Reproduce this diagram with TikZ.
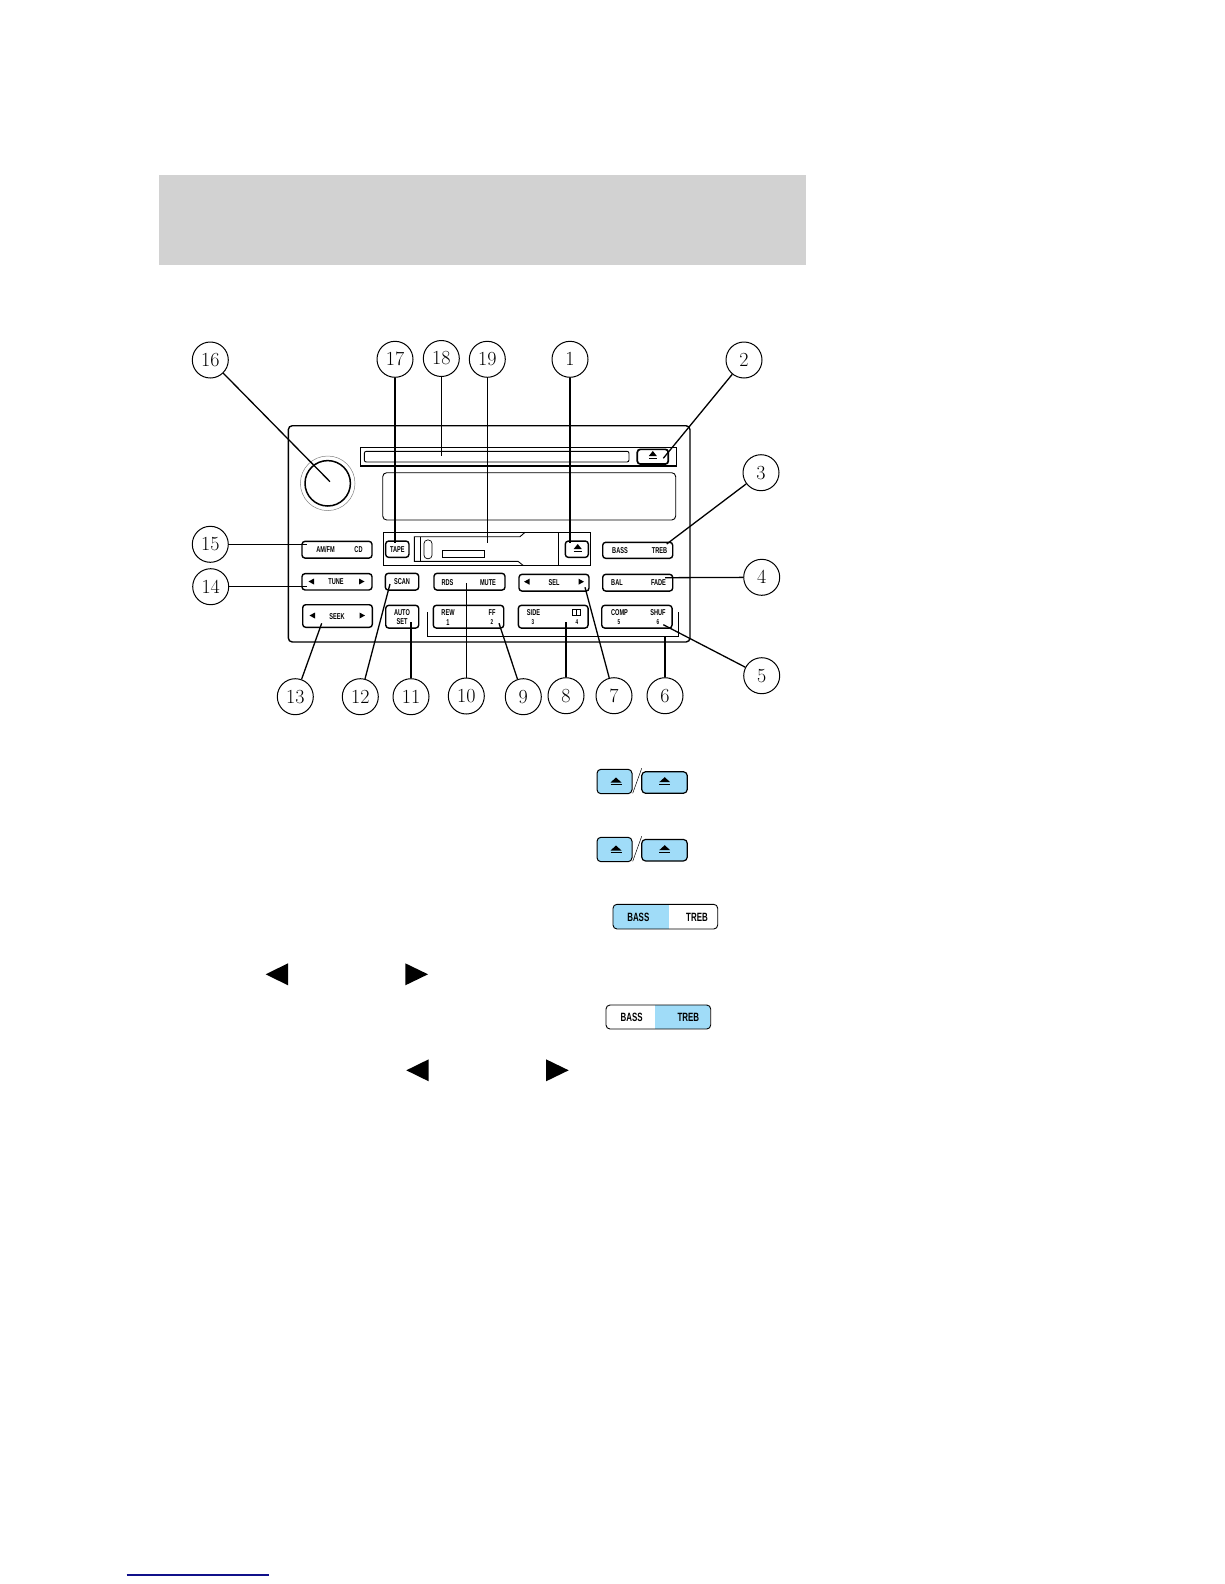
\documentclass[tikz,border=0pt]{standalone}
\usepackage{fontspec}
\newfontfamily\btnfont[FakeStretch=0.66]{Liberation Sans}
\definecolor{hdrgrey}{HTML}{D2D2D2}
\definecolor{keyblue}{HTML}{A0DCF8}
\definecolor{rulenavy}{HTML}{10108A}
\tikzset{
	num/.style={circle,draw,line width=1pt,minimum size=36pt,inner sep=0pt,font=\fontsize{20}{24}\selectfont},
	btn/.style={rectangle,draw,rounded corners=3pt,line width=1.4pt,inner sep=0pt},
	key/.style={btn,fill=keyblue,line width=1pt,rounded corners=4pt},
	lbl/.style={inner sep=0pt,font=\btnfont\bfseries\fontsize{8.5}{9}\selectfont},
	lblsmall/.style={inner sep=0pt,font=\btnfont\bfseries\fontsize{7}{8}\selectfont},
	leg/.style={inner sep=0pt,font=\btnfont\bfseries\fontsize{12}{13}\selectfont},
	pan/.style={line width=1.4pt},
	lead/.style={line width=1.3pt},
	tri/.style={fill=black,draw=none}
}
\newcommand{\ejectmark}[3]{% x, y, half width
	\fill (#1-#3,#2+1.5) -- (#1+#3,#2+1.5) -- (#1,#2-3.5) -- cycle;
	\draw[line width=.8pt] (#1-#3,#2+3.8) -- (#1+#3,#2+3.8);
}
\begin{document}
\begin{tikzpicture}[x=1pt,y=-1pt]
	\useasboundingbox (0,0) rectangle (1224,1584);
	\fill[hdrgrey] (159,175) rectangle (806,265);
	\draw[rulenavy,line width=1.5pt] (126.7,1575) -- (269,1575);

	% panel
	\draw[pan,rounded corners=4pt] (690,425.7) -- (288.3,425.7) -- (288.3,642) -- (690,642) -- cycle;
	\draw[pan] (360.7,447.3) rectangle (676.7,466);
	\draw[line width=.9pt,rounded corners=2pt] (364.3,451.3) rectangle (629,462);
	\draw[line width=.9pt,rounded corners=4pt] (382.7,472.7) rectangle (675.7,520);
	\draw[gray,line width=.5pt] (327.7,483.3) circle (27.3);
	\node(knob) [circle,draw,line width=1.5pt,minimum size=45.4pt,inner sep=0pt] at (327.7,483.3) {};

	% tape door
	\draw[line width=.9pt] (383.3,532.3) rectangle (590.3,565.3);
	\draw[line width=.9pt] (558.7,532.3) -- (558.7,565.3);
	\draw[line width=.9pt] (525,532.3) -- (520,536.7) -- (414.3,536.7) -- (414.3,561.3) -- (518,561.3) -- (523,565.3);
	\draw[line width=.9pt] (420,536.7) -- (420,561.3);
	\draw[line width=.7pt,rounded corners=3.5pt] (424,540) rectangle (432,558.7);
	\draw[line width=.7pt] (442.3,550.7) rectangle (484,557.3);

	% buttons
	\node(cdej) [btn,line width=1.7pt,minimum width=31pt,minimum height=14.7pt] at (652.8,456.7) {};
	\ejectmark{652.8}{454.5}{4}
	\node(tape) [btn,minimum width=23.3pt,minimum height=16.3pt] at (397.3,549.2) {};
	\node(tapeej) [btn,minimum width=23pt,minimum height=16.3pt] at (576.8,549.2) {};
	\ejectmark{577.7}{547.5}{4}
	\node(amfm) [btn,minimum width=70pt,minimum height=16.7pt] at (337,549.7) {};
	\node(bass) [btn,minimum width=70pt,minimum height=16pt] at (637.7,550.3) {};
	\node(tune) [btn,minimum width=70pt,minimum height=16.3pt] at (337,581.8) {};
	\node(scan) [btn,minimum width=33.4pt,minimum height=16.7pt] at (402,581.7) {};
	\node(rds) [btn,minimum width=71pt,minimum height=16.7pt] at (469.5,581.7) {};
	\node(sel) [btn,minimum width=70pt,minimum height=16.7pt] at (554,582.7) {};
	\node(bal) [btn,minimum width=70pt,minimum height=16.7pt] at (637.7,582.7) {};
	\node(seek) [btn,minimum width=69.6pt,minimum height=22.6pt] at (337.5,616) {};
	\node(auto) [btn,minimum width=33pt,minimum height=22.7pt] at (402.2,616.7) {};
	\node(rew) [btn,minimum width=70.4pt,minimum height=22.7pt] at (468.5,616.7) {};
	\node(side) [btn,minimum width=69.7pt,minimum height=22.7pt] at (553.2,616.7) {};
	\node(comp) [btn,minimum width=70.3pt,minimum height=22.7pt] at (636.9,616.7) {};
	\draw[pan] (427.7,612.3) -- (427.7,636.7) -- (678.3,636.7) -- (678.3,612.3);

	% button labels
	\node(tamfm) [lbl] at (325.5,549.7) {AM/FM};
	\node(tcd) [lbl] at (358.5,549.7) {CD};
	\node(ttape) [lbl] at (397.3,549.4) {TAPE};
	\node(tbass) [lbl] at (620,550.5) {BASS};
	\node(ttreb) [lbl] at (659.5,550.5) {TREB};
	\node(ttune) [lbl] at (336,581.3) {TUNE};
	\node(tscan) [lbl] at (402,581.3) {SCAN};
	\node(trds) [lbl] at (447.5,582.5) {RDS};
	\node(tmute) [lbl] at (488,582.5) {MUTE};
	\node(tsel) [lbl] at (554,583) {SEL};
	\node(tbal) [lbl] at (617,582.5) {BAL};
	\node(tfade) [lbl] at (658.5,582.5) {FADE};
	\node(tseek) [lbl] at (337,617) {SEEK};
	\node(tauto) [lbl,align=center,font=\btnfont\bfseries\fontsize{8.5}{8.5}\selectfont] at (402,617) {AUTO\\SET};
	\node(trew) [lbl] at (448,613) {REW};
	\node(tone) [lbl] at (448,622.5) {1};
	\node(tff) [lbl] at (492,613) {FF};
	\node(ttwo) [lblsmall] at (492,622.5) {2};
	\node(tside) [lbl] at (533.5,613) {SIDE};
	\node(tthree) [lblsmall] at (533,622.5) {3};
	\node(tfour) [lblsmall] at (577,622.5) {4};
	\node(tcomp) [lbl] at (619.5,613) {COMP};
	\node(tfive) [lblsmall] at (619,622.5) {5};
	\node(tshuf) [lbl] at (658,613) {SHUF};
	\node(tsix) [lblsmall] at (658,622.5) {6};
	\draw[line width=.7pt] (572.5,609.5) rectangle (580.5,615.5) (576.5,609.5) -- (576.5,615.5);

	% small arrows on the buttons
	\fill (308.5,581.5) -- (314,578.5) -- (314,584.5) -- cycle;
	\fill (364.5,581.5) -- (359,578.5) -- (359,584.5) -- cycle;
	\fill (309.5,615.5) -- (315,612.5) -- (315,618.5) -- cycle;
	\fill (365,615.5) -- (359.5,612.5) -- (359.5,618.5) -- cycle;
	\fill (524,581.7) -- (529.5,578.7) -- (529.5,584.7) -- cycle;
	\fill (584,581.7) -- (578.5,578.7) -- (578.5,584.7) -- cycle;

	% numbers
	\node(n16) [num] at (210.3,360) {16};
	\node(n17) [num] at (395,359.3) {17};
	\node(n18) [num] at (441.3,358.5) {18};
	\node(n19) [num] at (487.3,359.3) {19};
	\node(n1) [num] at (570,359.3) {1};
	\node(n2) [num] at (744,360) {2};
	\node(n3) [num] at (761,472.7) {3};
	\node(n4) [num] at (761.7,577.3) {4};
	\node(n5) [num] at (761.7,675.7) {5};
	\node(n6) [num] at (665,695.7) {6};
	\node(n7) [num] at (614,695.7) {7};
	\node(n8) [num] at (566,695.7) {8};
	\node(n9) [num] at (523.3,696.7) {9};
	\node(n10) [num] at (466.3,696) {10};
	\node(n11) [num] at (411,696.7) {11};
	\node(n12) [num] at (360.3,696.7) {12};
	\node(n13) [num] at (295.3,696.7) {13};
	\node(n14) [num] at (210.7,586.7) {14};
	\node(n15) [num] at (210.3,544.3) {15};

	% free ends of the leaders
	\coordinate(e16) at (330,481.7);
	\coordinate(e17) at (395,543.3);
	\coordinate(e18) at (441.3,456);
	\coordinate(e19) at (487.3,543);
	\coordinate(e1) at (570,543.3);
	\coordinate(e2) at (663.3,458.3);
	\coordinate(e3) at (666.7,544);
	\coordinate(e4) at (665,577.7);
	\coordinate(e5) at (663.3,624.7);
	\coordinate(e6) at (665,636.7);
	\coordinate(e7) at (585,587.3);
	\coordinate(e8) at (566,621.7);
	\coordinate(e9) at (499,623.3);
	\coordinate(e10) at (466.3,583.3);
	\coordinate(e11) at (411,621.7);
	\coordinate(e12) at (390,584);
	\coordinate(e13) at (321.7,623.3);
	\coordinate(e14) at (306.7,586.7);
	\coordinate(e15) at (306.7,544.3);

	\draw[lead] (n16) -- (e16);
	\draw[lead] (n17) -- (e17);
	\draw[lead] (n18) -- (e18);
	\draw[lead] (n19) -- (e19);
	\draw[lead] (n1) -- (e1);
	\draw[lead] (n2) -- (e2);
	\draw[lead] (n3) -- (e3);
	\draw[lead] (n4) -- (e4);
	\draw[lead] (n5) -- (e5);
	\draw[lead,line width=1.6pt] (n6) -- (e6);
	\draw[lead] (n7) -- (e7);
	\draw[lead] (n8) -- (e8);
	\draw[lead] (n9) -- (e9);
	\draw[lead] (n10) -- (e10);
	\draw[lead] (n11) -- (e11);
	\draw[lead] (n12) -- (e12);
	\draw[lead] (n13) -- (e13);
	\draw[lead] (n14) -- (e14);
	\draw[lead] (n15) -- (e15);

	% blue keys
	\node(ka) [key,minimum width=35pt,minimum height=24.4pt] at (614.5,781.5) {};
	\node(kb) [key,line width=1.2pt,minimum width=45.6pt,minimum height=21.6pt] at (664.5,782.5) {};
	\ejectmark{616}{781}{5.5}
	\ejectmark{664.7}{780.7}{5.5}
	\draw[line width=.5pt] (632.7,793.3) -- (641.7,768.3);
	\node(kc) [key,minimum width=35pt,minimum height=24.4pt] at (614.5,849.5) {};
	\node(kd) [key,line width=1.2pt,minimum width=45.6pt,minimum height=21.6pt] at (664.5,850.2) {};
	\ejectmark{616}{849}{5.5}
	\ejectmark{664.7}{848.7}{5.5}
	\draw[line width=.5pt] (632.7,861.3) -- (641.7,836.3);

	% bass and treble keys
	\begin{scope}
		\clip[rounded corners=4pt] (613,904.3) rectangle (717.7,929);
		\fill[keyblue] (613,904.3) rectangle (669,929);
	\end{scope}
	\node(kbass) [btn,line width=.9pt,rounded corners=4pt,minimum width=104.7pt,minimum height=24.7pt] at (665.35,916.65) {};
	\node(lbassa) [leg] at (638.3,916.9) {BASS};
	\node(ltreba) [leg] at (697,916.9) {TREB};
	\begin{scope}
		\clip[rounded corners=4pt] (606,1005) rectangle (710.7,1029);
		\fill[keyblue] (655.3,1005) rectangle (710.7,1029);
	\end{scope}
	\node(ktreb) [btn,line width=.9pt,rounded corners=4pt,minimum width=104.7pt,minimum height=24pt] at (658.35,1017) {};
	\node(lbassb) [leg] at (631.7,1017) {BASS};
	\node(ltrebb) [leg] at (688.3,1017) {TREB};

	% big arrows
	\fill[tri] (265.7,974.3) -- (288,963.3) -- (288,985.3) -- cycle;
	\fill[tri] (428,974.3) -- (405.3,963.3) -- (405.3,985.3) -- cycle;
	\fill[tri] (406.3,1070.3) -- (428.7,1059.3) -- (428.7,1081.3) -- cycle;
	\fill[tri] (568.7,1070.3) -- (546,1059.3) -- (546,1081.3) -- cycle;
\end{tikzpicture}
\end{document}
